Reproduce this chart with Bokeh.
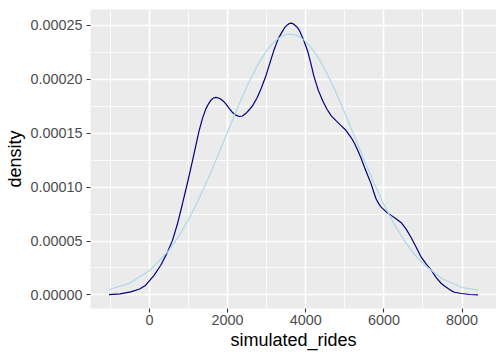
from bokeh.plotting import figure
from bokeh.models import Range1d, FixedTicker, PrintfTickFormatter
from bokeh.embed import file_html
from bokeh.resources import INLINE

# KDE of simulated rides (navy)
kde_x = [-1036, -750, -479, -250, -95, 118, 290, 444, 590, 718, 846, 980, 1103, 1190, 1272,
         1360, 1444, 1500, 1570, 1630, 1700, 1770, 1830, 1900, 1956, 2040, 2120, 2200, 2297,
         2380, 2470, 2560, 2641, 2750, 2854, 2982, 3090, 3195, 3300, 3410, 3470, 3530, 3580,
         3623, 3680, 3730, 3790, 3836, 3940, 4051, 4130, 4205, 4320, 4436, 4540, 4649, 4780,
         4905, 5033, 5162, 5250, 5333, 5420, 5503, 5590, 5674, 5740, 5802, 5870, 5931, 6060,
         6187, 6320, 6444, 6570, 6700, 6830, 6956, 7085, 7213, 7340, 7469, 7560, 7641, 7720,
         7810, 7982, 8200, 8410]
kde_y_e5 = [0.02, 0.1, 0.28, 0.55, 0.9, 1.82, 2.75, 3.83, 5.06, 6.6, 8.46, 10.5, 12.47, 13.9, 15.25,
            16.4, 17.26, 17.65, 18.05, 18.25, 18.33, 18.27, 18.15, 17.95, 17.72, 17.3, 16.95, 16.7, 16.55,
            16.6, 16.85, 17.2, 17.56, 18.25, 19.1, 20.34, 21.6, 22.8, 23.8, 24.5, 24.85, 25.05, 25.18,
            25.22, 25.15, 25.0, 24.8, 24.55, 23.7, 22.6, 21.5, 20.34, 19.0, 18.0, 17.25, 16.64, 16.15,
            15.71, 15.25, 14.6, 14.05, 13.4, 12.65, 11.85, 11.05, 10.3, 9.55, 8.9, 8.45, 8.15, 7.7,
            7.38, 7.05, 6.7, 6.1, 5.3, 4.4, 3.5, 2.85, 2.29, 1.6, 1.06, 0.8, 0.59, 0.4,
            0.25, 0.13, 0.04, 0.01]

# reference normal curve (light blue)
norm_x = [-1036, -500, 0, 500, 750, 1000, 1250, 1500, 1750, 2000, 2250, 2500, 2750, 2875, 3000,
          3125, 3250, 3375, 3500, 3625, 3750, 3875, 4000, 4125, 4250, 4375, 4500, 4750, 5000,
          5250, 5500, 5750, 6000, 6250, 6500, 6750, 7000, 7500, 8000, 8410]
norm_y_e5 = [0.48, 1.10, 2.24, 4.14, 5.45, 6.99, 8.78, 10.77, 12.91, 15.12, 17.32, 19.38, 21.19, 21.97, 22.65,
             23.22, 23.66, 23.98, 24.16, 24.2, 24.10, 23.87, 23.5, 23.0, 22.39, 21.67, 20.86, 18.98, 16.88,
             14.68, 12.47, 10.35, 8.40, 6.66, 5.16, 3.91, 2.90, 1.48, 0.69, 0.45]

x_ticks = [0, 2000, 4000, 6000, 8000]
x_minor = [-1000, 1000, 3000, 5000, 7000]
y_ticks = [0.0, 0.00005, 0.0001, 0.00015, 0.0002, 0.00025]
y_minor = [0.000025, 0.000075, 0.000125, 0.000175, 0.000225]

kde_y = [v * 1e-5 for v in kde_y_e5]
norm_y = [v * 1e-5 for v in norm_y_e5]

p = figure(width=496, height=352, output_backend="svg", toolbar_location=None,
           x_range=Range1d(-1508, 8882), y_range=Range1d(-0.0000126, 0.0002648),
           min_border_left=90, min_border_right=0, min_border_top=9, min_border_bottom=44)

p.background_fill_color = "#EBEBEB"
p.border_fill_color = "white"
p.outline_line_color = None

p.line(kde_x, kde_y, line_color="navy", line_width=1.2)
p.line(norm_x, norm_y, line_color="lightblue", line_width=1.2)

p.xaxis.ticker = FixedTicker(ticks=x_ticks, minor_ticks=x_minor)
p.yaxis.ticker = FixedTicker(ticks=y_ticks, minor_ticks=y_minor)
p.xaxis.formatter = PrintfTickFormatter(format="%d")
p.yaxis.formatter = PrintfTickFormatter(format="%.5f")

for ax in (p.xaxis, p.yaxis):
    ax.axis_line_color = None
    ax.major_tick_line_color = "#333333"
    ax.major_tick_line_width = 1.1
    ax.major_tick_in = 0
    ax.major_tick_out = 4
    ax.minor_tick_line_color = None
    ax.major_label_text_font = "Liberation Sans"
    ax.major_label_text_font_size = "14.4px"
    ax.major_label_text_color = "#4D4D4D"
    ax.axis_label_text_font = "Liberation Sans"
    ax.axis_label_text_font_size = "18px"
    ax.axis_label_text_font_style = "normal"
    ax.axis_label_text_color = "black"

p.xaxis.axis_label = "simulated_rides"
p.yaxis.axis_label = "density"
p.xaxis.major_label_standoff = 2
p.yaxis.major_label_standoff = 4
p.xaxis.axis_label_standoff = 2
p.yaxis.axis_label_standoff = 2

for g in (p.xgrid, p.ygrid):
    g.grid_line_color = "white"
    g.grid_line_width = 1.6
    g.minor_grid_line_color = "white"
    g.minor_grid_line_width = 0.8

open("out.html", "w").write(file_html(p, INLINE))
